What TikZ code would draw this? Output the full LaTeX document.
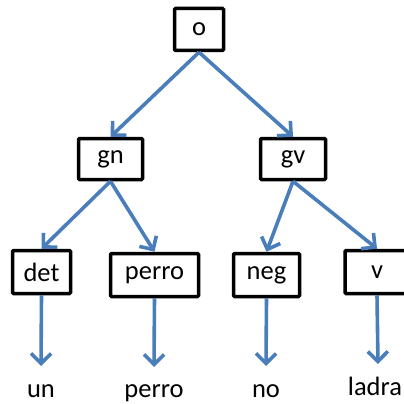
\documentclass[tikz,border=0pt]{standalone}
\usepackage{fontspec}
\setmainfont{Carlito}
\usetikzlibrary{arrows.meta}
\definecolor{arrowblue}{HTML}{4A7EBB}
\tikzset{
  box/.style={draw=black, line width=3.5pt, rounded corners=1pt, fill=white,
    inner sep=0pt, font=\fontsize{26.5}{28}\selectfont, anchor=center},
  leaf/.style={inner sep=0pt, font=\fontsize{26.5}{28}\selectfont, anchor=base},
  conn/.style={draw=arrowblue, line width=3.6pt,
    -{Straight Barb[length=10pt,width=20pt,line width=3.6pt]}}
}
\begin{document}
\begin{tikzpicture}[x=1pt,y=-1pt]
\useasboundingbox (0,0) rectangle (404,404);
\clip (0,0) rectangle (404,404);
\node[box, minimum width=49pt, minimum height=42pt] (o) at (199,29.5) {o};
\node[box, minimum width=64pt, minimum height=41pt] (gn) at (110.5,159) {gn};
\node[box, minimum width=65pt, minimum height=41pt] (gv) at (293,159) {gv};
\node[box, minimum width=58pt, minimum height=43pt] (det) at (41.5,272) {det};
\node[box, minimum width=88pt, minimum height=43pt] (perro) at (154.5,275) {perro};
\node[box, minimum width=66pt, minimum height=43pt] (neg) at (266.5,275) {neg};
\node[box, minimum width=64pt, minimum height=43pt] (v) at (377,272) {v};
\node[leaf] (un) at (41,397) {un};
\node[leaf] (perrow) at (154,397) {perro};
\node[leaf] (no) at (266,397) {no};
\node[leaf] (ladra) at (375,395) {ladra};
\coordinate (eun) at (41,366);
\coordinate (eperro) at (154,367);
\coordinate (eno) at (266,366);
\coordinate (eladra) at (378,364);
\draw[conn] (o.south) -- (gn.north);
\draw[conn] (o.south) -- (gv.north);
\draw[conn] (gn.south) -- (det.north);
\draw[conn] (gn.south) -- (perro.north);
\draw[conn] (gv.south) -- (neg.north);
\draw[conn] (gv.south) -- (v.north);
\draw[conn] (det.south) -- (eun);
\draw[conn] (perro.south) -- (eperro);
\draw[conn] (neg.south) -- (eno);
\draw[conn] (v.south) -- (eladra);
\end{tikzpicture}
\end{document}
